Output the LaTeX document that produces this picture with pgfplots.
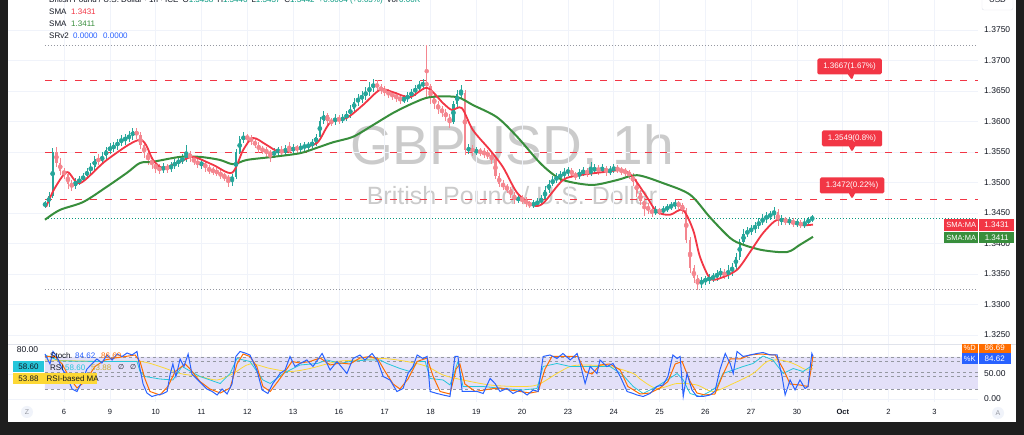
\documentclass[border=0pt]{standalone}
\usepackage{pgfplots}
\pgfplotsset{compat=1.18}
\usepackage{pgfplotstable}
\usepackage{fontspec}
\setmainfont{Liberation Sans}
\newfontfamily\dejavu{DejaVu Sans}
\usetikzlibrary{shapes.callouts}
\newcommand\fs[1]{\fontsize{#1}{#1}\selectfont}

\definecolor{frame}{HTML}{1E1E1E}
\definecolor{tvtext}{HTML}{131722}
\definecolor{gridc}{HTML}{F0F3FA}
\definecolor{upc}{HTML}{26A69A}
\definecolor{dnc}{HTML}{F4868F}
\definecolor{smared}{HTML}{F23645}
\definecolor{smagreen}{HTML}{388E3C}
\definecolor{dotgray}{HTML}{9598A1}
\definecolor{lastc}{HTML}{089981}
\definecolor{wm}{HTML}{CBCBCB}
\definecolor{kblue}{HTML}{2962FF}
\definecolor{dorange}{HTML}{FF6D00}
\definecolor{rsic}{HTML}{26C6DA}
\definecolor{rsima}{HTML}{FDD835}
\definecolor{bandc}{HTML}{E3E0F8}
\definecolor{sepc}{HTML}{E0E3EB}
\definecolor{btn}{HTML}{F0F3FA}
\definecolor{legblue}{HTML}{2962FF}

% 2-hour OHLC candles, i = bar index (12 per day)
\pgfplotstableread{
i o c h l
0 1.3462 1.3466 1.3470 1.3458
1 1.3466 1.3478 1.3484 1.3460
2 1.3478 1.3550 1.3556 1.3474
3 1.3550 1.3532 1.3558 1.3526
4 1.3532 1.3519 1.3540 1.3512
5 1.3519 1.3514 1.3524 1.3506
6 1.3514 1.3498 1.3518 1.3490
7 1.3498 1.3494 1.3504 1.3486
8 1.3494 1.3502 1.3508 1.3490
9 1.3502 1.3504 1.3510 1.3496
10 1.3504 1.3511 1.3516 1.3500
11 1.3511 1.3519 1.3524 1.3506
12 1.3519 1.3525 1.3532 1.3514
13 1.3525 1.3539 1.3544 1.3520
14 1.3539 1.3535 1.3546 1.3528
15 1.3535 1.3543 1.3550 1.3530
16 1.3543 1.3553 1.3558 1.3538
17 1.3553 1.3557 1.3564 1.3547
18 1.3557 1.3560 1.3566 1.3550
19 1.3560 1.3566 1.3572 1.3554
20 1.3566 1.3570 1.3578 1.3560
21 1.3570 1.3573 1.3580 1.3562
22 1.3573 1.3576 1.3584 1.3566
23 1.3576 1.3584 1.3590 1.3570
24 1.3584 1.3578 1.3589 1.3572
25 1.3578 1.3561 1.3582 1.3555
26 1.3561 1.3548 1.3566 1.3540
27 1.3548 1.3537 1.3552 1.3528
28 1.3537 1.3530 1.3542 1.3522
29 1.3530 1.3524 1.3534 1.3516
30 1.3524 1.3520 1.3530 1.3514
31 1.3520 1.3526 1.3532 1.3515
32 1.3526 1.3522 1.3531 1.3516
33 1.3522 1.3528 1.3534 1.3518
34 1.3528 1.3532 1.3538 1.3522
35 1.3532 1.3536 1.3542 1.3526
36 1.3536 1.3539 1.3546 1.3530
37 1.3539 1.3548 1.3561 1.3534
38 1.3548 1.3540 1.3552 1.3534
39 1.3540 1.3535 1.3544 1.3528
40 1.3535 1.3530 1.3540 1.3524
41 1.3530 1.3532 1.3538 1.3522
42 1.3532 1.3524 1.3536 1.3518
43 1.3524 1.3520 1.3528 1.3514
44 1.3520 1.3519 1.3526 1.3512
45 1.3519 1.3516 1.3524 1.3510
46 1.3516 1.3512 1.3520 1.3506
47 1.3512 1.3509 1.3516 1.3502
48 1.3509 1.3504 1.3512 1.3493
49 1.3504 1.3509 1.3514 1.3494
50 1.3509 1.3550 1.3555 1.3505
51 1.3550 1.3571 1.3576 1.3546
52 1.3571 1.3575 1.3582 1.3565
53 1.3575 1.3573 1.3580 1.3566
54 1.3573 1.3568 1.3578 1.3562
55 1.3568 1.3561 1.3572 1.3556
56 1.3561 1.3555 1.3566 1.3548
57 1.3555 1.3553 1.3560 1.3546
58 1.3553 1.3550 1.3558 1.3542
59 1.3550 1.3545 1.3554 1.3534
60 1.3545 1.3550 1.3556 1.3540
61 1.3550 1.3553 1.3559 1.3545
62 1.3553 1.3549 1.3560 1.3542
63 1.3549 1.3555 1.3562 1.3544
64 1.3555 1.3552 1.3566 1.3548
65 1.3552 1.3557 1.3563 1.3547
66 1.3557 1.3555 1.3562 1.3549
67 1.3555 1.3558 1.3564 1.3550
68 1.3558 1.3560 1.3566 1.3552
69 1.3560 1.3561 1.3567 1.3553
70 1.3561 1.3565 1.3571 1.3556
71 1.3565 1.3575 1.3580 1.3560
72 1.3575 1.3601 1.3608 1.3570
73 1.3601 1.3610 1.3617 1.3596
74 1.3610 1.3601 1.3614 1.3595
75 1.3601 1.3599 1.3606 1.3592
76 1.3599 1.3606 1.3612 1.3594
77 1.3606 1.3602 1.3610 1.3596
78 1.3602 1.3606 1.3612 1.3597
79 1.3606 1.3612 1.3618 1.3600
80 1.3612 1.3620 1.3627 1.3606
81 1.3620 1.3632 1.3638 1.3615
82 1.3632 1.3637 1.3645 1.3626
83 1.3637 1.3642 1.3650 1.3630
84 1.3642 1.3648 1.3656 1.3636
85 1.3648 1.3655 1.3664 1.3642
86 1.3655 1.3662 1.3670 1.3648
87 1.3662 1.3656 1.3668 1.3650
88 1.3656 1.3652 1.3662 1.3645
89 1.3652 1.3648 1.3658 1.3642
90 1.3648 1.3645 1.3654 1.3638
91 1.3645 1.3642 1.3650 1.3636
92 1.3642 1.3640 1.3648 1.3632
93 1.3640 1.3635 1.3645 1.3628
94 1.3635 1.3637 1.3644 1.3630
95 1.3637 1.3642 1.3648 1.3632
96 1.3642 1.3648 1.3654 1.3637
97 1.3648 1.3655 1.3660 1.3642
98 1.3655 1.3658 1.3666 1.3649
99 1.3658 1.3664 1.3670 1.3652
100 1.3664 1.3658 1.3725 1.3640
101 1.3658 1.3639 1.3662 1.3628
102 1.3639 1.3629 1.3645 1.3620
103 1.3629 1.3620 1.3634 1.3612
104 1.3620 1.3616 1.3626 1.3608
105 1.3616 1.3607 1.3621 1.3600
106 1.3607 1.3599 1.3612 1.3589
107 1.3599 1.3629 1.3634 1.3596
108 1.3629 1.3645 1.3652 1.3624
109 1.3645 1.3647 1.3660 1.3638
110 1.3647 1.3553 1.3652 1.3545
111 1.3553 1.3556 1.3563 1.3546
112 1.3556 1.3550 1.3562 1.3544
113 1.3550 1.3552 1.3558 1.3545
114 1.3552 1.3550 1.3557 1.3543
115 1.3550 1.3548 1.3556 1.3540
116 1.3548 1.3545 1.3553 1.3538
117 1.3545 1.3539 1.3550 1.3530
118 1.3539 1.3511 1.3542 1.3505
119 1.3511 1.3498 1.3515 1.3492
120 1.3498 1.3494 1.3504 1.3487
121 1.3494 1.3489 1.3498 1.3482
122 1.3489 1.3480 1.3493 1.3474
123 1.3480 1.3471 1.3484 1.3465
124 1.3471 1.3475 1.3480 1.3466
125 1.3475 1.3471 1.3479 1.3464
126 1.3471 1.3466 1.3476 1.3460
127 1.3466 1.3463 1.3470 1.3458
128 1.3463 1.3465 1.3471 1.3458
129 1.3465 1.3468 1.3474 1.3460
130 1.3468 1.3473 1.3480 1.3463
131 1.3473 1.3488 1.3494 1.3470
132 1.3488 1.3498 1.3504 1.3483
133 1.3498 1.3504 1.3510 1.3494
134 1.3504 1.3509 1.3515 1.3499
135 1.3509 1.3512 1.3519 1.3503
136 1.3512 1.3516 1.3523 1.3506
137 1.3516 1.3520 1.3526 1.3510
138 1.3520 1.3514 1.3524 1.3508
139 1.3514 1.3510 1.3518 1.3504
140 1.3510 1.3516 1.3522 1.3506
141 1.3516 1.3519 1.3525 1.3510
142 1.3519 1.3515 1.3524 1.3509
143 1.3515 1.3520 1.3534 1.3511
144 1.3520 1.3523 1.3530 1.3514
145 1.3523 1.3520 1.3528 1.3513
146 1.3520 1.3524 1.3530 1.3515
147 1.3524 1.3517 1.3527 1.3511
148 1.3517 1.3520 1.3527 1.3512
149 1.3520 1.3524 1.3531 1.3515
150 1.3524 1.3521 1.3528 1.3515
151 1.3521 1.3519 1.3526 1.3512
152 1.3519 1.3517 1.3524 1.3510
153 1.3517 1.3512 1.3521 1.3506
154 1.3512 1.3501 1.3516 1.3495
155 1.3501 1.3483 1.3505 1.3477
156 1.3483 1.3470 1.3488 1.3463
157 1.3470 1.3461 1.3474 1.3445
158 1.3461 1.3455 1.3466 1.3448
159 1.3455 1.3450 1.3460 1.3444
160 1.3450 1.3455 1.3461 1.3446
161 1.3455 1.3452 1.3459 1.3446
162 1.3452 1.3456 1.3462 1.3447
163 1.3456 1.3459 1.3465 1.3451
164 1.3459 1.3462 1.3468 1.3455
165 1.3462 1.3466 1.3472 1.3457
166 1.3466 1.3463 1.3470 1.3456
167 1.3463 1.3455 1.3467 1.3448
168 1.3455 1.3406 1.3458 1.3400
169 1.3406 1.3360 1.3410 1.3352
170 1.3360 1.3343 1.3365 1.3335
171 1.3343 1.3335 1.3348 1.3324
172 1.3335 1.3339 1.3345 1.3327
173 1.3339 1.3341 1.3347 1.3332
174 1.3341 1.3343 1.3350 1.3334
175 1.3343 1.3345 1.3352 1.3337
176 1.3345 1.3350 1.3357 1.3339
177 1.3350 1.3352 1.3360 1.3344
178 1.3352 1.3349 1.3358 1.3342
179 1.3349 1.3355 1.3364 1.3342
180 1.3355 1.3362 1.3368 1.3347
181 1.3362 1.3378 1.3384 1.3357
182 1.3378 1.3402 1.3408 1.3373
183 1.3402 1.3416 1.3423 1.3396
184 1.3416 1.3420 1.3427 1.3410
185 1.3420 1.3424 1.3431 1.3414
186 1.3424 1.3429 1.3436 1.3418
187 1.3429 1.3435 1.3442 1.3424
188 1.3435 1.3440 1.3448 1.3430
189 1.3440 1.3445 1.3452 1.3434
190 1.3445 1.3447 1.3454 1.3438
191 1.3447 1.3452 1.3460 1.3442
192 1.3452 1.3437 1.3456 1.3428
193 1.3437 1.3440 1.3446 1.3431
194 1.3440 1.3436 1.3444 1.3430
195 1.3436 1.3438 1.3443 1.3430
196 1.3438 1.3432 1.3441 1.3427
197 1.3432 1.3435 1.3440 1.3427
198 1.3435 1.3429 1.3438 1.3425
199 1.3429 1.3434 1.3440 1.3426
200 1.3434 1.3439 1.3444 1.3430
201 1.3439 1.3442 1.3447 1.3436
}\candles

\pgfplotsset{
  tvbase/.style={
    anchor=south west, scale only axis, width=970pt,
    xmin=-9.69, xmax=244.43,
    axis line style={draw=none}, major tick length=0pt,
    xtick={5,17,...,233},
    yticklabel pos=right,
    yticklabel style={anchor=west, inner sep=0pt, xshift=6pt, font=\fs{8.5}, text=tvtext},
    /pgf/number format/assume math mode=true,
    grid=major, major grid style={draw=gridc, line width=0.6pt},
  },
  candle/.style={only marks, mark=none, #1, error bars/.cd, y dir=both, y explicit, error mark=none},
}

\begin{document}
\begin{tikzpicture}[x=1pt,y=1pt]
\useasboundingbox (0,0) rectangle (1024,435);
\fill[frame] (0,0) rectangle (1024,435);
\fill[white] (8,13) rectangle (1016,435);
% watermark
\node[anchor=base, text=wm, font=\fs{55}, inner sep=0] at (512,270) {GBPUSD, 1h};
\node[anchor=base, text=wm, font=\fs{25}, inner sep=0] at (512,230) {British Pound / U.S. Dollar};

% ---------------- main price pane
\begin{axis}[tvbase, at={(8pt,91pt)}, height=344pt,
  ymin=1.323525, ymax=1.379918,
  xticklabel=\empty,
  ytick={1.325,1.33,1.335,1.34,1.345,1.35,1.355,1.36,1.365,1.37,1.375},
  yticklabel={\pgfmathprintnumber[fixed,fixed zerofill,precision=4]{\tick}},
]
% reference levels
\addplot[dotgray, line width=0.8pt, dash pattern=on 1pt off 2pt] coordinates {(0,1.3725) (244.4,1.3725)};
\addplot[dotgray, line width=0.8pt, dash pattern=on 1pt off 2pt] coordinates {(0,1.3324) (244.4,1.3324)};
\addplot[lastc, line width=0.7pt, dash pattern=on 1pt off 2pt] coordinates {(0,1.3442) (244.4,1.3442)};
\addplot[smared, line width=1.2pt, dash pattern=on 7pt off 8pt] coordinates {(0,1.3667) (244.4,1.3667)};
\addplot[smared, line width=1.2pt, dash pattern=on 7pt off 8pt] coordinates {(0,1.3549) (244.4,1.3549)};
\addplot[smared, line width=1.2pt, dash pattern=on 7pt off 8pt] coordinates {(0,1.3472) (244.4,1.3472)};
% candles: wicks
\addplot[candle=upc, error bar style={line width=0.6pt, upc}]
  table[x=i, y expr={\thisrow{c}>=\thisrow{o} ? 0.5*(\thisrow{h}+\thisrow{l}) : nan},
        y error expr={0.5*(\thisrow{h}-\thisrow{l})}] {\candles};
\addplot[candle=dnc, error bar style={line width=0.6pt, dnc}]
  table[x=i, y expr={\thisrow{c}<\thisrow{o} ? 0.5*(\thisrow{h}+\thisrow{l}) : nan},
        y error expr={0.5*(\thisrow{h}-\thisrow{l})}] {\candles};
% candles: bodies
\addplot[candle=upc, error bar style={line width=2.2pt, upc}]
  table[x=i, y expr={\thisrow{c}>=\thisrow{o} ? 0.5*(\thisrow{o}+\thisrow{c}) : nan},
        y error expr={max(0.5*abs(\thisrow{c}-\thisrow{o}),0.00005)}] {\candles};
\addplot[candle=dnc, error bar style={line width=2.2pt, dnc}]
  table[x=i, y expr={\thisrow{c}<\thisrow{o} ? 0.5*(\thisrow{o}+\thisrow{c}) : nan},
        y error expr={max(0.5*abs(\thisrow{c}-\thisrow{o}),0.00005)}] {\candles};
% slow SMA (green)
\addplot[smagreen, line width=2pt, smooth, tension=0.5] coordinates {
(0,1.3439) (3.9,1.3455) (10.0,1.3468) (16.2,1.3493) (21.5,1.3516) (24.9,1.3532) (28.3,1.3534) (35.4,1.3542) (40.6,1.3542) (45.8,1.3537) (49.3,1.3530) (52.9,1.3537) (59.7,1.3542) (66.8,1.3548) (71.3,1.3557) (75.5,1.3566) (80.7,1.3575) (85.9,1.3594) (91.2,1.3614) (96.4,1.3630) (100.9,1.3640) (107.9,1.3640) (112.1,1.3627) (118.4,1.3607) (123.7,1.3575) (129.7,1.3532) (134.1,1.3509) (137.5,1.3501) (143.6,1.3496) (149.9,1.3504) (155.1,1.3512) (161.9,1.3499) (169.0,1.3480) (174.2,1.3443) (179.5,1.3409) (182.9,1.3398) (188.1,1.3389) (194.4,1.3386) (197.8,1.3398) (201.2,1.3411)};
% fast SMA (red)
\addplot[smared, line width=1.8pt, smooth, tension=0.5] coordinates {
(0.3,1.3460) (2.5,1.3490) (5.8,1.3517) (9.2,1.3499) (16.2,1.3537) (24.9,1.3570) (28.3,1.3537) (30.9,1.3524) (35.4,1.3534) (38.8,1.3542) (44.0,1.3529) (49.0,1.3516) (51.9,1.3553) (54.5,1.3573) (58.2,1.3561) (61.6,1.3550) (66.8,1.3557) (71.3,1.3565) (74.7,1.3598) (79.1,1.3606) (83.3,1.3627) (87.8,1.3652) (91.2,1.3648) (95.6,1.3640) (100.1,1.3655) (104.3,1.3630) (106.6,1.3619) (109.2,1.3622) (112.1,1.3586) (116.6,1.3553) (120.0,1.3525) (123.7,1.3483) (127.8,1.3463) (130.5,1.3466) (135.7,1.3504) (140.2,1.3512) (146.2,1.3517) (151.4,1.3520) (154.0,1.3509) (157.7,1.3476) (160.3,1.3452) (163.7,1.3447) (167.1,1.3455) (169.8,1.3422) (171.6,1.3378) (174.2,1.3343) (176.8,1.3343) (181.3,1.3357) (184.7,1.3386) (188.1,1.3417) (191.8,1.3439) (195.2,1.3435) (198.6,1.3430) (201.2,1.3431)};
\end{axis}

% ---------------- stochastic / RSI pane
\begin{axis}[tvbase, at={(8pt,33pt)}, height=57pt,
  ymin=-6, ymax=108,
  xticklabels={6,9,10,11,12,13,16,17,18,19,20,23,24,25,26,27,30,\textbf{Oct},2,3},
  xticklabel style={anchor=center, yshift=-10pt, font=\fs{7.5}, text=tvtext},
  ytick={0,50},
  yticklabel={\pgfmathprintnumber[fixed,fixed zerofill,precision=2]{\tick}},
]
\addplot[fill=bandc, draw=none] coordinates {(0,20) (0,84) (244.4,84) (244.4,20) (0,20)};
\addplot[dotgray, line width=0.6pt, dash pattern=on 3pt off 3pt] coordinates {(0,84) (244.4,84)};
\addplot[dotgray, line width=0.6pt, dash pattern=on 3pt off 3pt] coordinates {(0,76) (244.4,76)};
\addplot[dotgray, line width=0.6pt, dash pattern=on 3pt off 3pt] coordinates {(0,54) (244.4,54)};
\addplot[dotgray, line width=0.6pt, dash pattern=on 3pt off 3pt] coordinates {(0,46) (244.4,46)};
\addplot[dotgray, line width=0.6pt, dash pattern=on 3pt off 3pt] coordinates {(0,20) (244.4,20)};
% RSI-based MA
\addplot[rsima, line width=0.8pt, smooth] coordinates {
(0,78) (14.4,75) (24.9,75) (30.1,65) (35.4,51) (40.6,45) (45.1,38) (49.3,51) (53.7,70) (59.0,61) (64.2,55) (69.4,61) (76.5,75) (82.5,78) (88.6,81) (94.8,75) (100.1,65) (104.3,48) (109.5,38) (116.6,28) (123.7,25) (128.9,28) (134.1,51) (137.6,65) (141.0,68) (148.0,65) (154.1,51) (155.9,40) (160.3,21) (165.6,31) (170.8,28) (175.0,15) (180.3,31) (185.5,51) (189.2,75) (192.6,78) (196.0,71) (199.6,58) (201.2,61)};
% RSI
\addplot[rsic, line width=0.8pt] coordinates {
(0,88) (3.9,76) (14.4,75) (24.1,75) (24.9,55) (26.2,45) (30.1,40) (33.5,38) (35.9,65) (40.6,45) (45.9,31) (48.5,51) (50.3,81) (53.7,75) (57.1,38) (59.0,31) (62.4,51) (66.8,68) (71.3,71) (73.9,78) (77.3,71) (79.9,75) (84.4,78) (87.8,78) (89.6,71) (93.0,61) (95.6,55) (97.5,75) (99.6,75) (100.9,41) (104.3,38) (106.1,28) (108.2,75) (109.5,25) (114.8,25) (120.0,21) (125.2,18) (128.9,21) (130.5,65) (134.1,71) (137.6,65) (141.0,65) (144.6,65) (148.0,65) (151.4,48) (154.1,25) (156.7,11) (160.3,25) (163.0,38) (165.6,51) (167.2,38) (169.0,11) (171.6,5) (174.2,15) (176.1,25) (177.6,51) (180.3,58) (182.9,65) (185.5,71) (188.1,86) (190.7,78) (193.4,51) (196.0,61) (198.6,55) (201.2,68)};
% %D
\addplot[dorange, line width=1pt] coordinates {
(0,85) (2.6,85) (4.5,70) (6.6,40) (8.4,22) (10.5,35) (13.1,65) (15.7,78) (18.3,82) (21.0,85) (23.6,88) (24.9,75) (26.2,40) (27.5,15) (30.1,8) (32.2,25) (34.1,55) (36.7,70) (38.0,60) (40.6,35) (43.2,20) (45.9,12) (48.5,22) (50.3,70) (51.9,90) (53.7,85) (55.5,65) (57.1,25) (59.0,15) (61.0,35) (62.9,55) (64.7,75) (66.8,72) (69.4,75) (72.1,82) (74.7,68) (77.3,72) (79.9,70) (82.5,82) (85.2,85) (87.2,80) (89.1,55) (91.2,30) (93.0,20) (95.1,40) (97.5,75) (100.1,82) (101.7,45) (103.5,15) (106.1,10) (107.7,60) (108.7,70) (110.0,30) (112.7,15) (116.6,20) (119.2,22) (121.8,18) (124.5,15) (127.1,12) (129.2,15) (131.0,60) (132.8,85) (134.9,85) (137.6,85) (139.6,85) (141.5,55) (143.3,50) (145.4,68) (148.0,70) (150.7,58) (152.7,25) (155.9,10) (158.5,12) (161.1,22) (163.2,35) (165.1,70) (166.9,75) (169.0,35) (170.8,12) (172.9,8) (175.5,10) (177.4,45) (179.5,80) (182.1,80) (184.7,88) (187.3,90) (191.3,88) (193.4,60) (195.2,30) (197.8,28) (199.9,25) (200.6,55) (201.2,87)};
% %K
\addplot[kblue, line width=1pt] coordinates {
(0,90) (1.3,70) (2.1,95) (3.1,85) (4.5,60) (5.8,45) (7.1,20) (8.4,15) (9.7,35) (11.0,60) (12.3,70) (13.6,80) (14.9,72) (16.2,88) (17.6,78) (18.9,90) (20.2,85) (21.5,92) (22.8,88) (24.1,95) (24.9,60) (25.7,30) (26.7,12) (28.0,5) (29.3,8) (30.7,10) (32.0,15) (32.8,50) (33.5,70) (34.3,45) (35.4,80) (36.4,65) (37.5,90) (38.5,50) (39.8,40) (41.1,30) (42.4,20) (43.8,15) (45.1,8) (46.4,20) (47.7,10) (49.0,30) (50.0,85) (51.1,95) (52.4,92) (53.7,88) (55.5,58) (56.9,18) (58.4,11) (59.7,31) (61.6,51) (62.9,58) (64.2,85) (65.5,65) (66.8,71) (68.6,78) (70.2,65) (72.6,91) (74.7,58) (76.5,75) (79.1,51) (80.7,81) (82.5,88) (83.8,78) (85.7,91) (87.2,75) (88.6,45) (90.4,38) (92.2,15) (93.8,21) (95.1,51) (96.4,65) (97.5,88) (99.0,81) (100.1,85) (100.9,15) (102.7,11) (104.3,8) (106.1,5) (107.4,85) (108.2,85) (109.3,15) (111.4,15) (113.2,15) (114.8,11) (116.6,41) (117.9,31) (119.2,15) (121.0,21) (122.6,11) (124.5,18) (126.3,8) (127.9,18) (129.2,15) (130.5,85) (132.3,88) (134.1,81) (135.7,91) (137.6,78) (139.4,91) (140.2,71) (141.5,31) (142.8,65) (144.6,51) (145.4,78) (147.2,65) (148.8,71) (150.7,45) (152.5,15) (154.1,11) (155.1,8) (156.7,5) (158.5,11) (160.3,25) (161.9,28) (163.2,45) (164.5,88) (165.6,81) (166.4,85) (167.2,5) (168.2,51) (169.5,18) (170.8,5) (172.4,5) (174.2,8) (175.5,15) (176.8,58) (178.2,91) (179.5,71) (180.3,51) (181.3,95) (182.9,85) (184.7,88) (186.5,91) (188.1,93) (190.0,88) (191.8,88) (193.1,45) (193.9,8) (195.2,38) (196.5,18) (197.8,38) (199.1,21) (199.9,25) (200.4,60) (200.9,91) (201.2,85)};
\end{axis}

% pane separator
\draw[sepc, line width=1pt] (8,90.5) -- (1016,90.5);

% level labels
\tikzset{lvl/.style={rectangle callout, fill=smared, text=white, rounded corners=1.5pt,
  font=\fs{8}, inner xsep=6pt, minimum height=16pt, callout pointer width=6pt}}
\node[lvl, callout absolute pointer={(852,355)}] at (849.5,368.5) {1.3667(1.67\%)};
\node[lvl, callout absolute pointer={(852,283)}] at (852,296.5) {1.3549(0.8\%)};
\node[lvl, callout absolute pointer={(852,236)}] at (852,249.5) {1.3472(0.22\%)};

% SMA price-scale labels
\fill[smared] (944,204) rectangle (978.4,216);
\fill[smared] (979.4,204) rectangle (1014,216);
\node[text=white, font=\fs{7.5}] at (961.2,210) {SMA:MA};
\node[text=white, font=\fs{8}] at (996.7,210) {1.3431};
\fill[smagreen] (944,192) rectangle (978.4,203);
\fill[smagreen] (979.4,192) rectangle (1014,203);
\node[text=white, font=\fs{7.5}] at (961.2,197.5) {SMA:MA};
\node[text=white, font=\fs{8}] at (996.7,197.5) {1.3411};

% stoch right labels
\begin{scope}
\clip (900,30) rectangle (1016,90);
\fill[dorange] (962,82) rectangle (977.5,92);
\fill[dorange] (978.5,82) rectangle (1011,92);
\node[text=white, font=\fs{7.5}] at (969.7,87.5) {\%D};
\node[text=white, font=\fs{8}] at (994.7,87.5) {86.69};
\end{scope}
\fill[kblue] (962,71) rectangle (977.5,81.5);
\fill[kblue] (978.5,71) rectangle (1011,81.5);
\node[text=white, font=\fs{7.5}] at (969.7,76.2) {\%K};
\node[text=white, font=\fs{8}] at (994.7,76.2) {84.62};

% stoch left labels
\node[text=tvtext, font=\fs{8.5}] at (27.5,85.5) {80.00};
\fill[rsic] (13,63) rectangle (44,74);
\node[text=tvtext, font=\fs{8}] at (28.5,68.5) {58.60};
\fill[rsima] (13,51) rectangle (97,62);
\node[text=tvtext, font=\fs{8}] at (28.5,56.5) {53.88};
\node[text=tvtext, font=\fs{8}, anchor=west, inner sep=0] at (46.5,56.5) {RSI-based MA};

% stoch legend
\node[anchor=west, inner sep=0, font=\fs{8}, text=tvtext] at (50,79) {Stoch};
\node[anchor=west, inner sep=0, font=\fs{8}, text=kblue] at (75,79) {84.62};
\node[anchor=west, inner sep=0, font=\fs{8}, text=dorange] at (101,79) {86.69};
\node[anchor=west, inner sep=0, font=\fs{8}, text=tvtext] at (50,67.5) {RSI};
\node[anchor=west, inner sep=0, font=\fs{8}, text=rsic] at (65,67.5) {58.60};
\node[anchor=west, inner sep=0, font=\fs{8}, text=rsima!80!black] at (91,67.5) {53.88};
\node[anchor=west, inner sep=0, font=\fs{7}\dejavu, text=tvtext] at (118,67.5) {∅};
\node[anchor=west, inner sep=0, font=\fs{7}\dejavu, text=tvtext] at (130,67.5) {∅};

% top-left legend
\node[anchor=base west, inner sep=0, font=\fs{8}, text=tvtext] at (49,432)
 {British Pound / U.S. Dollar · 1h · ICE\enspace O\textcolor{lastc}{1.3438}\enspace H\textcolor{lastc}{1.3446}\enspace L\textcolor{lastc}{1.3437}\enspace C\textcolor{lastc}{1.3442}\enspace\textcolor{lastc}{+0.0004 (+0.03\%)}\enspace Vol\,\textcolor{lastc}{0.00K}};
\node[anchor=base west, inner sep=0, font=\fs{8}, text=tvtext] at (49,420) {SMA};
\node[anchor=base west, inner sep=0, font=\fs{8}, text=smared] at (71,420) {1.3431};
\node[anchor=base west, inner sep=0, font=\fs{8}, text=tvtext] at (49,408) {SMA};
\node[anchor=base west, inner sep=0, font=\fs{8}, text=smagreen] at (71,408) {1.3411};
\node[anchor=base west, inner sep=0, font=\fs{8}, text=tvtext] at (49,396) {SRv2};
\node[anchor=base west, inner sep=0, font=\fs{8}, text=legblue] at (73,396) {0.0000};
\node[anchor=base west, inner sep=0, font=\fs{8}, text=legblue] at (103,396) {0.0000};

% USD box
\draw[sepc, fill=white, rounded corners=2pt] (982,425) rectangle (1013,440);
\node[anchor=base, inner sep=0, font=\fs{8}, text=tvtext] at (997.5,432) {USD};

% buttons
\fill[btn] (27,23) circle (6);
\node[font=\fs{7}, text=dotgray] at (27,23) {Z};
\fill[btn] (998,22) circle (6);
\node[font=\fs{7}, text=dotgray] at (998,22) {A};
\end{tikzpicture}
\end{document}
